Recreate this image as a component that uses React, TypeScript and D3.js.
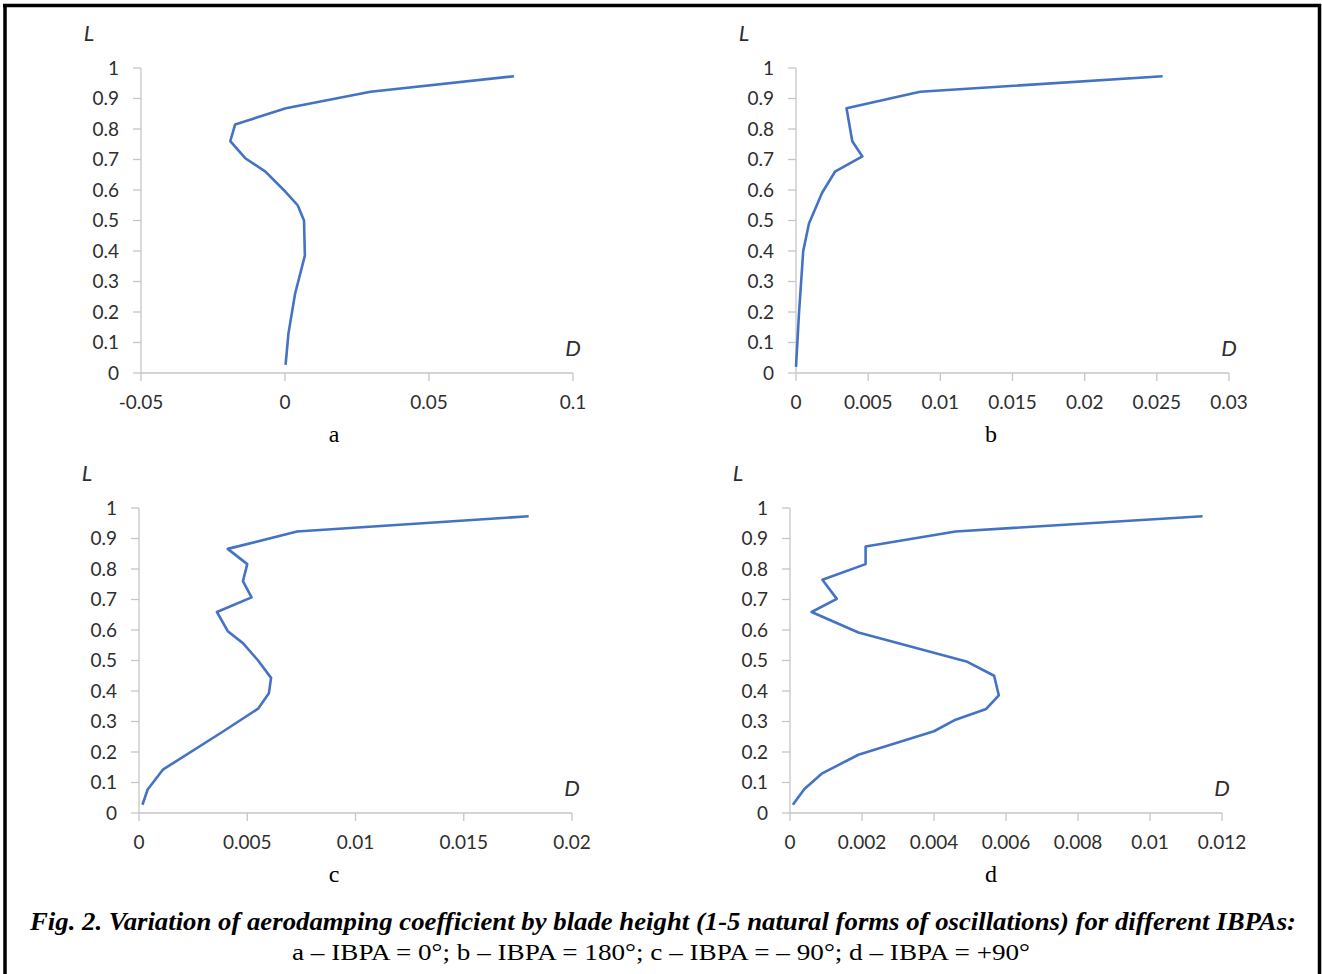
import React from "react";
import * as d3 from "d3";

// ---- Data (D = aerodamping coefficient, L = relative blade height) ----
const aD = [0.0002, 0.0012, 0.0035, 0.0069, 0.0066, 0.0044, 0.0001, -0.0068, -0.0139, -0.019, -0.0173, 0.0003, 0.0297, 0.0795];
const aL = [0.027, 0.13, 0.26, 0.385, 0.5, 0.55, 0.595, 0.66, 0.705, 0.76, 0.815, 0.868, 0.922, 0.973];

const bD = [0.0, 0.0002, 0.0005, 0.0009, 0.0018, 0.0027, 0.0046, 0.0039, 0.0035, 0.0086, 0.0254];
const bL = [0.02, 0.19, 0.4, 0.49, 0.59, 0.66, 0.71, 0.76, 0.868, 0.922, 0.973];

const cD = [0.00016, 0.0004, 0.0011, 0.0039, 0.0055, 0.006, 0.0061, 0.0055, 0.0048, 0.0041, 0.0036, 0.0052, 0.0048, 0.005, 0.0041, 0.0073, 0.018];
const cL = [0.027, 0.077, 0.142, 0.268, 0.342, 0.393, 0.443, 0.5, 0.557, 0.596, 0.659, 0.707, 0.76, 0.816, 0.866, 0.923, 0.973];

const dD = [0.00008, 0.0004, 0.00088, 0.0019, 0.004, 0.0046, 0.00545, 0.0058, 0.00567, 0.0049, 0.0019, 0.0006, 0.0013, 0.0009, 0.0021, 0.0021, 0.0046, 0.01146];
const dL = [0.027, 0.079, 0.129, 0.191, 0.268, 0.306, 0.341, 0.386, 0.45, 0.497, 0.592, 0.659, 0.702, 0.765, 0.816, 0.874, 0.923, 0.973];

const yTicks = [0, 0.1, 0.2, 0.3, 0.4, 0.5, 0.6, 0.7, 0.8, 0.9, 1];
const aTicks = [-0.05, 0, 0.05, 0.1];
const bTicks = [0, 0.005, 0.01, 0.015, 0.02, 0.025, 0.03];
const cTicks = [0, 0.005, 0.01, 0.015, 0.02];
const dTicks = [0, 0.002, 0.004, 0.006, 0.008, 0.01, 0.012];

const panelLetters = ["a", "b", "c", "d"];
const captionTitle = "Fig. 2. Variation of aerodamping coefficient by blade height (1-5 natural forms of oscillations) for different IBPAs:";
const captionSub = "a – IBPA = 0°; b – IBPA = 180°; c – IBPA = – 90°; d – IBPA = +90°";

const fmt = (v: number) => String(+v.toFixed(6));

type PanelProps = {
  xs: number[];
  ys: number[];
  ticks: number[];
  x0: number;
  x1: number;
  yBottom: number;
  yTop: number;
  letter: string;
  letterX: number;
};

const AXIS = "#c6c6c6";
const LABEL = "#2e2e2e";
const LINE = "#4472c4";
const SANS = "Lato, 'Open Sans', sans-serif";
const SERIF = "'Liberation Serif', 'Times New Roman', Times, serif";

function Panel({ xs, ys, ticks, x0, x1, yBottom, yTop, letter, letterX }: PanelProps) {
  const x = d3.scaleLinear().domain([ticks[0], ticks[ticks.length - 1]]).range([x0, x1]);
  const y = d3.scaleLinear().domain([0, 1]).range([yBottom, yTop]);
  const pts: [number, number][] = xs.map((v, i) => [v, ys[i]]);
  const path = d3
    .line<[number, number]>()
    .x((p) => x(p[0]))
    .y((p) => y(p[1]))(pts);
  const axisX = x0;
  return (
    <g>
      <line x1={axisX} x2={axisX} y1={y(0)} y2={y(1)} stroke={AXIS} strokeWidth={1.3} />
      {yTicks.map((t) => (
        <g key={"y" + t}>
          <line x1={axisX - 8} x2={axisX} y1={y(t)} y2={y(t)} stroke={AXIS} strokeWidth={1.3} />
          <text x={axisX - 22} y={y(t)} dy="0.35em" textAnchor="end" fontFamily={SANS} fontSize={19} fill={LABEL}>
            {fmt(t)}
          </text>
        </g>
      ))}
      <line x1={x0} x2={x1} y1={y(0)} y2={y(0)} stroke={AXIS} strokeWidth={1.3} />
      {ticks.map((t) => (
        <g key={"x" + t}>
          <line x1={x(t)} x2={x(t)} y1={y(0)} y2={y(0) + 8} stroke={AXIS} strokeWidth={1.3} />
          <text x={x(t)} y={y(0) + 29} dy="0.35em" textAnchor="middle" fontFamily={SANS} fontSize={19} fill={LABEL}>
            {fmt(t)}
          </text>
        </g>
      ))}
      <text x={axisX - 52} y={y(1) - 35} dy="0.35em" textAnchor="middle" fontFamily={SANS} fontStyle="italic" fontSize={22} fill={LABEL}>
        L
      </text>
      <text x={x1} y={y(0) - 25} dy="0.35em" textAnchor="middle" fontFamily={SANS} fontStyle="italic" fontSize={22} fill={LABEL}>
        D
      </text>
      <path d={path || ""} fill="none" stroke={LINE} strokeWidth={2.6} strokeLinejoin="round" />
      <text x={letterX} y={y(0) + 61} dy="0.35em" textAnchor="middle" fontFamily={SERIF} fontSize={24} fill="#000">
        {letter}
      </text>
    </g>
  );
}

export default function App() {
  return (
    <svg width={1322} height={974} style={{ position: "absolute", left: 0, top: 0, background: "#fff" }}>
      <rect x={0} y={0} width={1322} height={974} fill="#fff" />
      <line x1={3} x2={1321} y1={5.5} y2={5.5} stroke="#000" strokeWidth={3.5} />
      <line x1={5} x2={5} y1={4} y2={974} stroke="#000" strokeWidth={3.5} />
      <line x1={1319.5} x2={1319.5} y1={4} y2={974} stroke="#000" strokeWidth={3.5} />

      <Panel xs={aD} ys={aL} ticks={aTicks} x0={141} x1={573} yBottom={373} yTop={68} letter={panelLetters[0]} letterX={334} />
      <Panel xs={bD} ys={bL} ticks={bTicks} x0={796} x1={1229} yBottom={373} yTop={68} letter={panelLetters[1]} letterX={991} />
      <Panel xs={cD} ys={cL} ticks={cTicks} x0={139} x1={572} yBottom={813} yTop={508} letter={panelLetters[2]} letterX={334} />
      <Panel xs={dD} ys={dL} ticks={dTicks} x0={790} x1={1222} yBottom={813} yTop={508} letter={panelLetters[3]} letterX={991} />

      <text x={30} y={930} textLength={1266} lengthAdjust="spacingAndGlyphs" fontFamily={SERIF} fontWeight="bold" fontStyle="italic" fontSize={26} fill="#000">
        {captionTitle}
      </text>
      <text x={292} y={960} textLength={738} lengthAdjust="spacingAndGlyphs" fontFamily={SERIF} fontSize={23} fill="#000">
        {captionSub}
      </text>
    </svg>
  );
}
